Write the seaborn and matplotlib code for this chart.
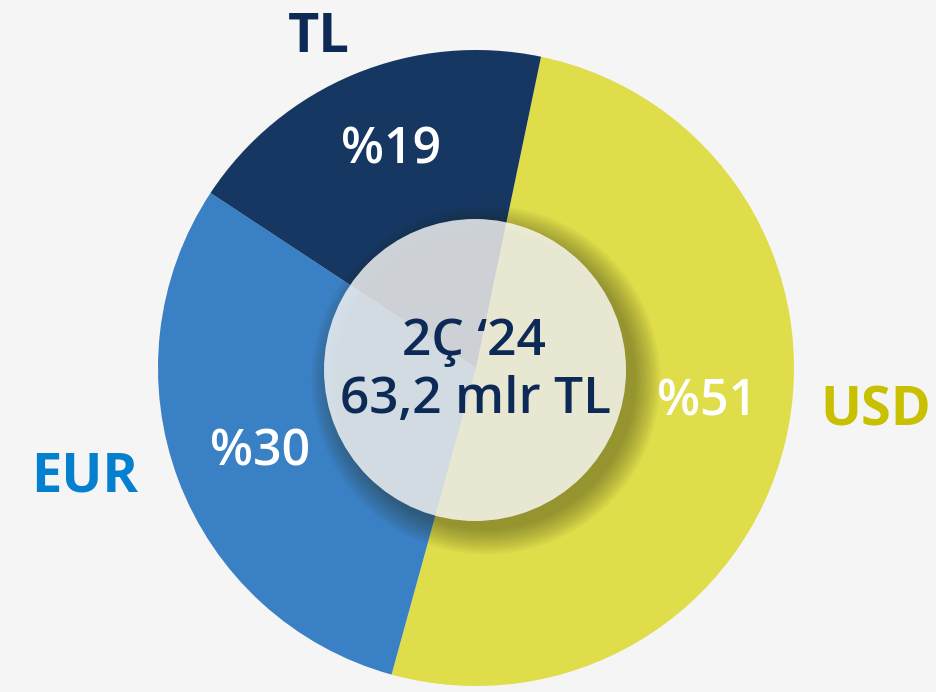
import matplotlib
matplotlib.use("Agg")
import matplotlib.pyplot as plt
from matplotlib.patches import Circle
import seaborn as sns

# data
currencies = ["USD", "EUR", "TL"]
shares = [51, 30, 19]
center_lines = ["2Ç \u201824", "63,2 mlr TL"]

# colours
slice_colors = ["#dfdd4a", "#3a80c4", "#163762"]
name_colors = ["#c8c000", "#0480ce", "#0d2a57"]
bg = "#f5f5f5"

sns.set_style("white")
plt.rcParams["font.family"] = ["Open Sans", "DejaVu Sans"]

W, H = 937, 692
fig = plt.figure(figsize=(W / 100, H / 100), dpi=100, facecolor=bg)
ax = fig.add_axes([0, 0, 1, 1])
ax.set_facecolor(bg)

cx, cy, R = 476, H - 368, 318

wedges, _ = ax.pie(shares, colors=slice_colors, startangle=78.2, counterclock=False,
                   radius=R, center=(cx, cy), wedgeprops=dict(linewidth=0))

# soft shadow behind the centre disc
for i in range(12):
    ax.add_patch(Circle((cx + 10, cy - 12), 150 + i * 2.2, facecolor="#2a2a10",
                        alpha=0.04, lw=0, zorder=3))
ax.add_patch(Circle((cx - 1, cy - 2), 151, facecolor="white", alpha=0.79, lw=0, zorder=4))

# centre text (baselines in pixel rows)
for txt, (x, y) in zip(center_lines, [(474, 355), (476, 413)]):
    ax.text(x, H - y, txt, ha="center", va="baseline", fontsize=37,
            fontweight="semibold", color="#0d2a57", zorder=5)

# percent labels in the slices
pct_pos = [(707, 415), (260, 466), (391, 164)]
for v, (x, y) in zip(shares, pct_pos):
    ax.text(x, H - y, f"%{v}", ha="center", va="baseline", fontsize=36,
            fontweight="semibold", color="white", zorder=5)

# currency names outside
name_pos = [(876, 425), (85, 492), (319, 52)]
for name, c, (x, y) in zip(currencies, name_colors, name_pos):
    ax.text(x, H - y, name, ha="center", va="baseline", fontsize=39,
            fontweight="bold", color=c, zorder=5)

ax.set_xlim(0, W)
ax.set_ylim(0, H)
ax.set_aspect("equal")
ax.axis("off")

fig.savefig("out.png", dpi=100, facecolor=bg)
